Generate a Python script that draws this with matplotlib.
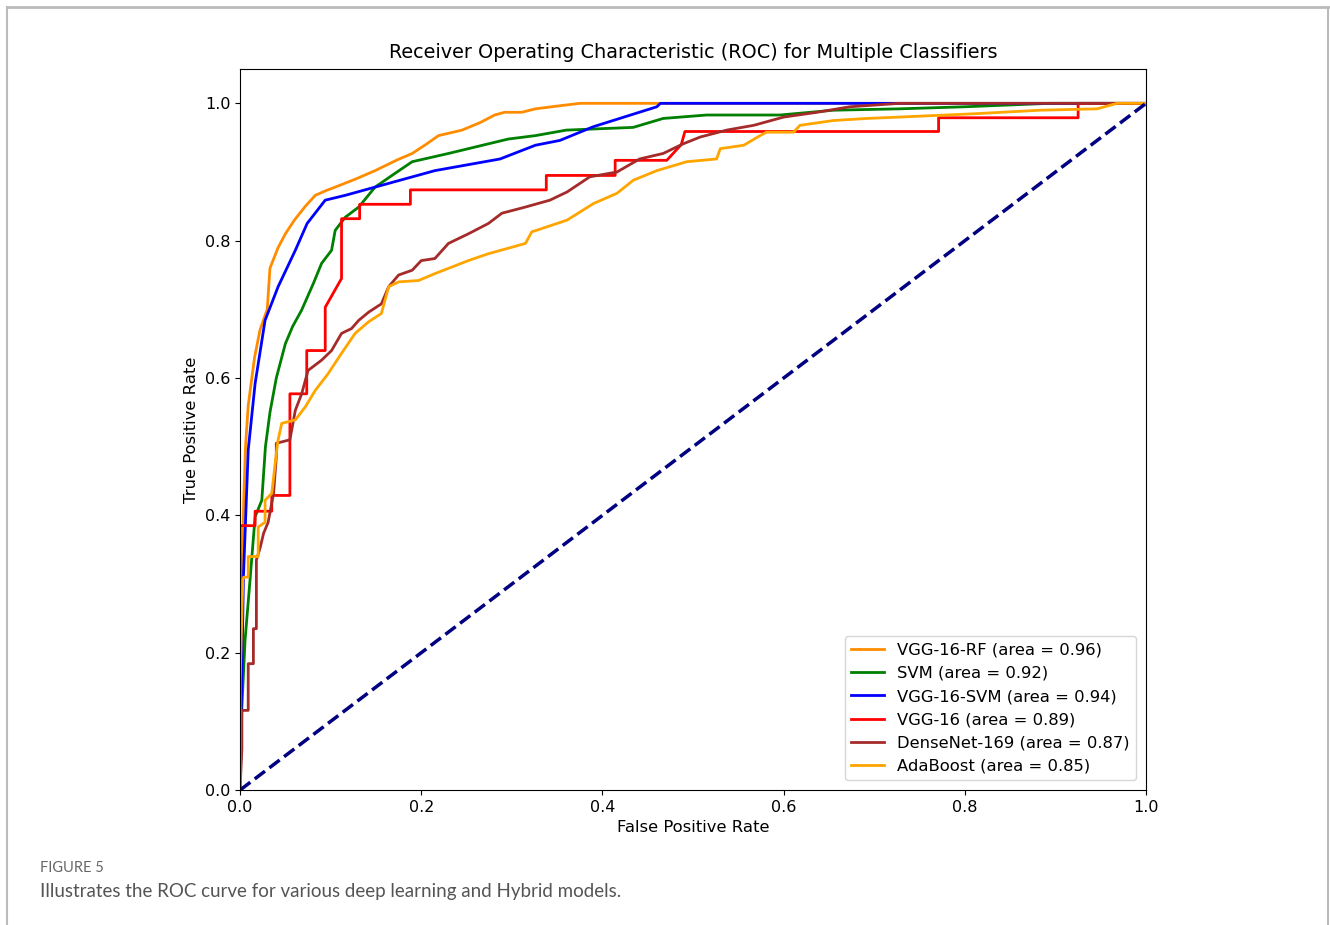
import matplotlib.pyplot as plt
from matplotlib.lines import Line2D

# ROC curve points (FPR, TPR)
rf_fpr = [0, 0, 0.002, 0.004, 0.006, 0.009, 0.012, 0.016, 0.022, 0.03, 0.033, 0.042, 0.05, 0.06, 0.072,
          0.083, 0.095, 0.105, 0.128, 0.149, 0.174, 0.19, 0.205, 0.219, 0.245, 0.265, 0.281, 0.292, 0.311,
          0.326, 0.35, 0.375, 1.0]
rf_tpr = [0, 0.15, 0.3, 0.42, 0.5, 0.56, 0.59, 0.63, 0.67, 0.70, 0.76, 0.79, 0.81, 0.83, 0.85,
          0.866, 0.873, 0.878, 0.89, 0.902, 0.918, 0.927, 0.94, 0.953, 0.961, 0.972, 0.983, 0.987, 0.987,
          0.992, 0.996, 1.0, 1.0]

svm_fpr = [0, 0.002, 0.0055, 0.011, 0.0166, 0.024, 0.028, 0.033, 0.04, 0.05, 0.058, 0.068, 0.081, 0.09,
           0.101, 0.105, 0.116, 0.131, 0.149, 0.171, 0.19, 0.23, 0.274, 0.296, 0.326, 0.36, 0.434, 0.467,
           0.515, 0.596, 0.655, 0.728, 0.8, 0.894, 1.0]
svm_tpr = [0, 0.121, 0.218, 0.306, 0.398, 0.422, 0.5, 0.55, 0.6, 0.65, 0.675, 0.699, 0.738, 0.767,
           0.786, 0.815, 0.834, 0.849, 0.878, 0.898, 0.915, 0.927, 0.941, 0.948, 0.953, 0.961, 0.965,
           0.978, 0.983, 0.983, 0.99, 0.992, 0.995, 1.0, 1.0]

vsvm_fpr = [0, 0.0037, 0.009, 0.0166, 0.0276, 0.042, 0.061, 0.074, 0.094, 0.116, 0.215, 0.287, 0.326,
            0.353, 0.39, 0.46, 0.464, 1.0]
vsvm_tpr = [0, 0.31, 0.495, 0.592, 0.684, 0.733, 0.786, 0.825, 0.859, 0.866, 0.902, 0.919, 0.939,
            0.946, 0.966, 0.995, 1.0, 1.0]

vgg_fpr = [0, 0, 0.0166, 0.0166, 0.035, 0.035, 0.055, 0.055, 0.0736, 0.0736, 0.094, 0.094, 0.112, 0.112,
           0.132, 0.132, 0.188, 0.188, 0.338, 0.338, 0.414, 0.414, 0.471, 0.487, 0.491, 0.771, 0.771,
           0.925, 0.925, 1.0]
vgg_tpr = [0, 0.385, 0.385, 0.406, 0.406, 0.429, 0.429, 0.577, 0.577, 0.64, 0.64, 0.703, 0.745, 0.832,
           0.832, 0.853, 0.853, 0.874, 0.874, 0.895, 0.895, 0.917, 0.917, 0.94, 0.959, 0.959, 0.979,
           0.979, 1.0, 1.0]

dn_fpr = [0, 0.002, 0.002, 0.009, 0.009, 0.0147, 0.0147, 0.018, 0.018, 0.022, 0.026, 0.031, 0.037, 0.04,
          0.04, 0.055, 0.061, 0.068, 0.075, 0.09, 0.101, 0.112, 0.123, 0.131, 0.142, 0.156, 0.164, 0.175,
          0.19, 0.2, 0.215, 0.23, 0.252, 0.274, 0.289, 0.315, 0.342, 0.361, 0.386, 0.416, 0.441, 0.467,
          0.489, 0.508, 0.537, 0.567, 0.6, 0.637, 0.673, 0.728, 1.0]
dn_tpr = [0, 0.06, 0.116, 0.116, 0.184, 0.184, 0.235, 0.235, 0.335, 0.352, 0.374, 0.39, 0.432, 0.485,
          0.505, 0.51, 0.553, 0.577, 0.611, 0.626, 0.64, 0.665, 0.672, 0.684, 0.696, 0.708, 0.733, 0.75,
          0.757, 0.771, 0.774, 0.796, 0.81, 0.825, 0.84, 0.849, 0.859, 0.871, 0.893, 0.9, 0.919, 0.927,
          0.941, 0.951, 0.961, 0.968, 0.98, 0.987, 0.995, 1.0, 1.0]

ada_fpr = [0, 0, 0.003, 0.004, 0.009, 0.009, 0.02, 0.02, 0.0276, 0.0276, 0.035, 0.04, 0.042, 0.046, 0.061,
           0.072, 0.083, 0.097, 0.112, 0.127, 0.142, 0.156, 0.164, 0.175, 0.197, 0.215, 0.252, 0.274, 0.296,
           0.315, 0.322, 0.327, 0.361, 0.39, 0.416, 0.434, 0.46, 0.493, 0.526, 0.53, 0.556, 0.574, 0.581,
           0.611, 0.618, 0.655, 0.692, 0.728, 0.813, 0.883, 0.946, 0.968, 1.0]
ada_tpr = [0, 0.155, 0.306, 0.31, 0.31, 0.34, 0.34, 0.383, 0.39, 0.422, 0.432, 0.49, 0.51, 0.534, 0.539,
           0.558, 0.582, 0.606, 0.636, 0.665, 0.682, 0.694, 0.733, 0.74, 0.742, 0.752, 0.771, 0.781, 0.789,
           0.796, 0.813, 0.815, 0.83, 0.854, 0.869, 0.888, 0.902, 0.915, 0.919, 0.934, 0.939, 0.953, 0.958,
           0.958, 0.968, 0.975, 0.978, 0.98, 0.985, 0.99, 0.992, 1.0, 1.0]

labels = ['VGG-16-RF (area = 0.96)', 'SVM (area = 0.92)', 'VGG-16-SVM (area = 0.94)',
          'VGG-16 (area = 0.89)', 'DenseNet-169 (area = 0.87)', 'AdaBoost (area = 0.85)']
colors = ['darkorange', 'green', 'blue', 'red', 'brown', 'orange']

fig = plt.figure(figsize=(13.3, 9.25), dpi=100)
ax = fig.add_axes([0.1805, 0.1459, 0.6812, 0.7795])

curves = [(rf_fpr, rf_tpr), (svm_fpr, svm_tpr), (vsvm_fpr, vsvm_tpr),
          (vgg_fpr, vgg_tpr), (dn_fpr, dn_tpr), (ada_fpr, ada_tpr)]
for (fpr, tpr), lab, col in zip(curves, labels, colors):
    ax.plot(fpr, tpr, color=col, lw=2, label=lab)

ax.plot([0, 1], [0, 1], color='navy', lw=2.5, linestyle='--')
ax.set_xlim(0.0, 1.0)
ax.set_ylim(0.0, 1.05)
ax.set_xlabel('False Positive Rate', fontsize=11.8)
ax.set_ylabel('True Positive Rate', fontsize=11.8)
ax.set_title('Receiver Operating Characteristic (ROC) for Multiple Classifiers', fontsize=13.9, pad=8)
ax.tick_params(labelsize=11.5)
ax.legend(loc='lower right', fontsize=11.8, borderaxespad=0.6)

# page frame and caption
fig.add_artist(Line2D([7 / 1330, 7 / 1330], [0, 1 - 7 / 925], color='#bbbbbb', lw=1.5))
fig.add_artist(Line2D([7 / 1330, 1329 / 1330], [1 - 7 / 925, 1 - 7 / 925], color='#bbbbbb', lw=2))
fig.add_artist(Line2D([1328 / 1330, 1328 / 1330], [0, 1 - 7 / 925], color='#bbbbbb', lw=1.5))
fig.text(40 / 1330, 1 - 868 / 925, 'FIGURE 5', fontsize=10.5, color='#666666', family='Lato', va='center')
fig.text(40 / 1330, 1 - 891 / 925, 'Illustrates the ROC curve for various deep learning and Hybrid models.',
         fontsize=13.5, color='#555555', family='Lato', va='center')

plt.savefig('out.png', dpi=100)
